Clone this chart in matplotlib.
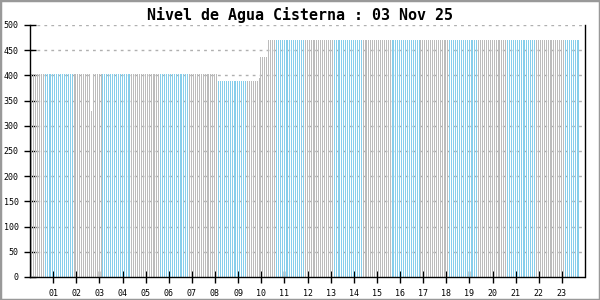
import numpy as np
import matplotlib
matplotlib.use("Agg")
import matplotlib.pyplot as plt
from matplotlib.patches import Rectangle

# niveles (inicio de tramo HH:MM, nivel)
seg_start = ["00:00", "02:35", "02:40", "08:05", "09:50", "09:55", "10:15"]
seg_level = [403,     330,     403,     388,     395,     436,     470]
last_sample = "23:40"

hour_labels = ["%02d" % h for h in range(1, 24)]
title = "Nivel de Agua Cisterna : 03 Nov 25"

BLUE = "#87ceeb"
GRAY = "#bcbcbc"


def to_idx(hhmm):
    h, m = hhmm.split(":")
    return (int(h) * 60 + int(m)) // 5


n = to_idx(last_sample) + 1
starts = [to_idx(s) for s in seg_start] + [n]
levels = []
for k, val in enumerate(seg_level):
    levels += [val] * (starts[k + 1] - starts[k])
levels = np.array(levels)
times = np.arange(n) / 12.0

# bloques de color alternados cada 15 muestras
colors = [BLUE if ((i + 8) // 15) % 2 else GRAY for i in range(n)]

fig = plt.figure(figsize=(6, 3), dpi=100)
ax = fig.add_axes([30 / 600, 23 / 300, 555 / 600, 252 / 300])

for y in range(50, 501, 50):
    ax.axhline(y, color="#b0b0b0", linestyle=(0, (2, 3)), linewidth=1, zorder=1)

# una barra de 1 px por muestra de 5 min
ax.vlines(times + 0.05, 0, levels, colors=colors, linewidth=0.72,
          antialiased=False, zorder=2)

ax.set_xlim(0, 24)
ax.set_ylim(0, 500)
ax.set_yticks(range(0, 501, 50))
ax.set_xticks(range(1, 24))
ax.set_xticklabels(hour_labels)

ax.spines["top"].set_visible(False)
ax.spines["left"].set_linewidth(1)
ax.spines["right"].set_linewidth(1)
ax.spines["bottom"].set_linestyle((0, (1, 1)))
ax.spines["bottom"].set_linewidth(1)
ax.tick_params(axis="y", direction="inout", length=8, width=1, pad=4,
               labelsize=6)
ax.tick_params(axis="x", direction="inout", length=9, width=1, pad=4,
               labelsize=6)
for lab in ax.get_xticklabels() + ax.get_yticklabels():
    lab.set_family("DejaVu Sans Mono")

fig.text(0.5, 0.95, title, ha="center", va="center", fontsize=10.8,
         fontweight="bold", family="DejaVu Sans Mono")

fig.patches.append(Rectangle((0, 0), 1, 1, transform=fig.transFigure,
                             fill=False, edgecolor="#999999", linewidth=2.5))

fig.savefig("out.png", dpi=100)
